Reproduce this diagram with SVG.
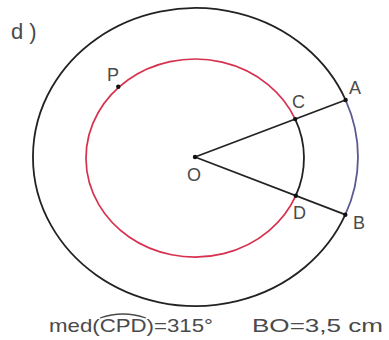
<svg xmlns="http://www.w3.org/2000/svg" width="389" height="340" viewBox="0 0 389 340">
  <style>
    .lbl { font-family: "Liberation Sans", Arial, sans-serif; font-size: 18px; fill: #4a4a4a; }
    .cap { font-family: "Liberation Sans", Arial, sans-serif; font-size: 19px; fill: #4a4a4a; }
    .blk { fill: none; stroke: #222; stroke-width: 1.8; }
    .red { fill: none; stroke: #d6324f; stroke-width: 1.7; }
    .blu { fill: none; stroke: #5a5a90; stroke-width: 1.8; }
    .dot { fill: #111; }
  </style>
  <rect width="389" height="340" fill="#fff"/>
  <text class="lbl" x="11" y="39" style="font-size:22px">d )</text>

  <g id="outer-circle">
    <path class="blk" d="M 345.3 214.7 A 162.5 149 0 1 1 345.6 100.0"/>
    <path class="blu" d="M 345.6 100.0 A 162.5 149 0 0 1 345.3 214.7"/>
  </g>
  <g id="inner-circle">
    <path class="red" d="M 295.8 195.7 A 109 99 0 1 1 295.2 119.1"/>
    <path class="blk" d="M 295.2 119.1 A 109 99 0 0 1 295.8 195.7"/>
  </g>

  <g id="connectors">
    <line class="blk" x1="195" y1="157" x2="345.6" y2="100.0"/>
    <line class="blk" x1="195" y1="157" x2="345.3" y2="214.7"/>
  </g>

  <g id="node-O"><circle class="dot" cx="195" cy="157" r="2.2"/><text class="lbl" x="187" y="181">O</text></g>
  <g id="node-A"><circle class="dot" cx="345.6" cy="100" r="2.2"/><text class="lbl" x="349" y="94">A</text></g>
  <g id="node-B"><circle class="dot" cx="345.3" cy="214.7" r="2.2"/><text class="lbl" x="353" y="229">B</text></g>
  <g id="node-C"><circle class="dot" cx="295.2" cy="119.1" r="2.2"/><text class="lbl" x="292" y="108">C</text></g>
  <g id="node-D"><circle class="dot" cx="295.8" cy="195.7" r="2.2"/><text class="lbl" x="293" y="219">D</text></g>
  <g id="node-P"><circle class="dot" cx="118.3" cy="86.8" r="2.2"/><text class="lbl" x="107" y="81">P</text></g>

  <g id="caption">
    <text class="cap" x="49" y="332" textLength="164" lengthAdjust="spacingAndGlyphs">med(CPD)=315°</text>
    <path d="M 100 318 Q 123 310 146 318" fill="none" stroke="#4a4a4a" stroke-width="1.3"/>
    <text class="cap" x="252" y="332" textLength="131" lengthAdjust="spacingAndGlyphs">BO=3,5 cm</text>
  </g>
</svg>
